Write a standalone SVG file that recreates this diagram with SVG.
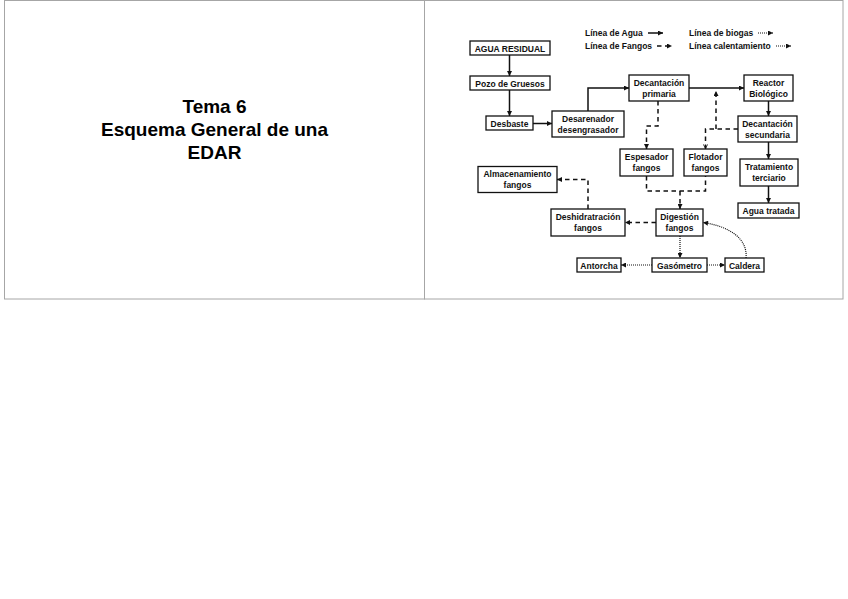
<svg xmlns="http://www.w3.org/2000/svg" width="848" height="599" viewBox="0 0 848 599">
<style>
.panel{fill:#fff;stroke:#a6a6a6;stroke-width:1}
.box rect{fill:#fff;stroke:#111;stroke-width:1.3}
.box text, .lg{font-family:"Liberation Sans",Arial,sans-serif;font-weight:bold;font-size:8.5px;fill:#111}
.box text{text-anchor:middle}
.title{font-family:"Liberation Sans",Arial,sans-serif;font-weight:bold;font-size:19px;fill:#000;text-anchor:middle}
.w{fill:none;stroke:#111;stroke-width:1.5;marker-end:url(#ah)}
.f{fill:none;stroke:#111;stroke-width:1.5;stroke-dasharray:4.5 3.5}
.fa{marker-end:url(#ah)}
.b{fill:none;stroke:#111;stroke-width:1.2;stroke-dasharray:1 1;marker-end:url(#ah)}
</style>
<defs>
<marker id="ah" viewBox="0 0 6 6" refX="6" refY="3" markerWidth="6" markerHeight="5" markerUnits="userSpaceOnUse" orient="auto"><path d="M0,0 L6,3 L0,6 z" fill="#111"/></marker>
<marker id="ao" viewBox="0 0 6 6" refX="6" refY="3" markerWidth="5" markerHeight="5" markerUnits="userSpaceOnUse" orient="auto"><path d="M0.5,0.5 L5.5,3 L0.5,5.5" fill="none" stroke="#111" stroke-width="1"/></marker>
</defs>
<rect width="848" height="599" fill="#fff"/>
<rect class="panel" x="4.5" y="0.5" width="420" height="298.5"/>
<rect class="panel" x="424.5" y="0.5" width="418.5" height="298.5"/>
<g id="title">
<text class="title" x="214.5" y="112.5">Tema 6</text>
<text class="title" x="214.5" y="135.5">Esquema General de una</text>
<text class="title" x="214.5" y="158.5">EDAR</text>
</g>
<g id="legend">
<text class="lg" x="585" y="36">Línea de Agua</text>
<path class="w" d="M648,33 H663"/>
<text class="lg" x="585" y="49">Línea de Fangos</text>
<path class="f fa" d="M657,46 H672"/>
<text class="lg" x="689" y="36">Línea de biogas</text>
<path class="b" d="M758,33 H773"/>
<text class="lg" x="689" y="49">Línea calentamiento</text>
<path class="b" d="M776,46 H791"/>
</g>
<g id="connectors">
<path class="w" d="M509.5,55 V76"/>
<path class="w" d="M509.5,90 V116"/>
<path class="w" d="M533,123.5 H552"/>
<path class="w" d="M588,111 V88 H629"/>
<path class="w" d="M689,88 H744"/>
<path class="w" d="M768.5,101 V116"/>
<path class="w" d="M768.5,142 V159"/>
<path class="w" d="M768.5,186 V203"/>
<path class="f fa" d="M658,101 V126 H646.5 V149"/>
<path class="f" style="marker-end:url(#ao)" d="M738,129 H705.5 V149"/>
<path class="f fa" d="M716,129 V91"/>
<path class="f" d="M646.5,176 V191 H705.5 V176"/>
<path class="f fa" d="M680,191 V209"/>
<path class="f fa" d="M656,222.5 H625"/>
<path class="f fa" d="M588,209 V179.5 H557"/>
<path class="b" d="M680,236 V258"/>
<path class="b" d="M652,265 H621"/>
<path class="b" d="M707,265 H725"/>
<path class="b" d="M746,258 C748,238 728,226 703,222.5"/>
</g>
<g id="agua-residual" class="box"><rect x="470" y="41" width="80" height="14"/><text x="510" y="51.5">AGUA RESIDUAL</text></g>
<g id="pozo" class="box"><rect x="470" y="76" width="80" height="14"/><text x="510" y="86.5">Pozo de Gruesos</text></g>
<g id="desbaste" class="box"><rect x="486" y="116" width="47" height="14"/><text x="509.5" y="126.5">Desbaste</text></g>
<g id="desarenador" class="box"><rect x="552" y="111" width="72" height="26"/><text x="588" y="121.5">Desarenador</text><text x="588" y="132.5">desengrasador</text></g>
<g id="dec-primaria" class="box"><rect x="629" y="75" width="60" height="26"/><text x="659" y="85.5">Decantación</text><text x="659" y="96.5">primaria</text></g>
<g id="reactor" class="box"><rect x="744" y="75" width="49" height="26"/><text x="768.5" y="85.5">Reactor</text><text x="768.5" y="96.5">Biológico</text></g>
<g id="dec-secundaria" class="box"><rect x="738" y="116" width="59" height="26"/><text x="767.5" y="126.5">Decantación</text><text x="767.5" y="137.5">secundaria</text></g>
<g id="espesador" class="box"><rect x="620" y="149" width="53" height="27"/><text x="646.5" y="160">Espesador</text><text x="646.5" y="171">fangos</text></g>
<g id="flotador" class="box"><rect x="684" y="149" width="43" height="27"/><text x="705.5" y="160">Flotador</text><text x="705.5" y="171">fangos</text></g>
<g id="tratamiento" class="box"><rect x="740" y="159" width="58" height="27"/><text x="769" y="170">Tratamiento</text><text x="769" y="181">terciario</text></g>
<g id="agua-tratada" class="box"><rect x="738" y="203" width="61" height="15"/><text x="768.5" y="214">Agua tratada</text></g>
<g id="almacenamiento" class="box"><rect x="478" y="166.5" width="79" height="26"/><text x="517.5" y="177">Almacenamiento</text><text x="517.5" y="188">fangos</text></g>
<g id="deshidratacion" class="box"><rect x="551" y="209" width="74" height="27"/><text x="588" y="220">Deshidratración</text><text x="588" y="231">fangos</text></g>
<g id="digestion" class="box"><rect x="656" y="209" width="47" height="27"/><text x="679.5" y="220">Digestión</text><text x="679.5" y="231">fangos</text></g>
<g id="antorcha" class="box"><rect x="577" y="258" width="44" height="14"/><text x="599" y="268.5">Antorcha</text></g>
<g id="gasometro" class="box"><rect x="652" y="258" width="55" height="14"/><text x="679.5" y="268.5">Gasómetro</text></g>
<g id="caldera" class="box"><rect x="725" y="258" width="39" height="14"/><text x="744.5" y="268.5">Caldera</text></g>
</svg>
